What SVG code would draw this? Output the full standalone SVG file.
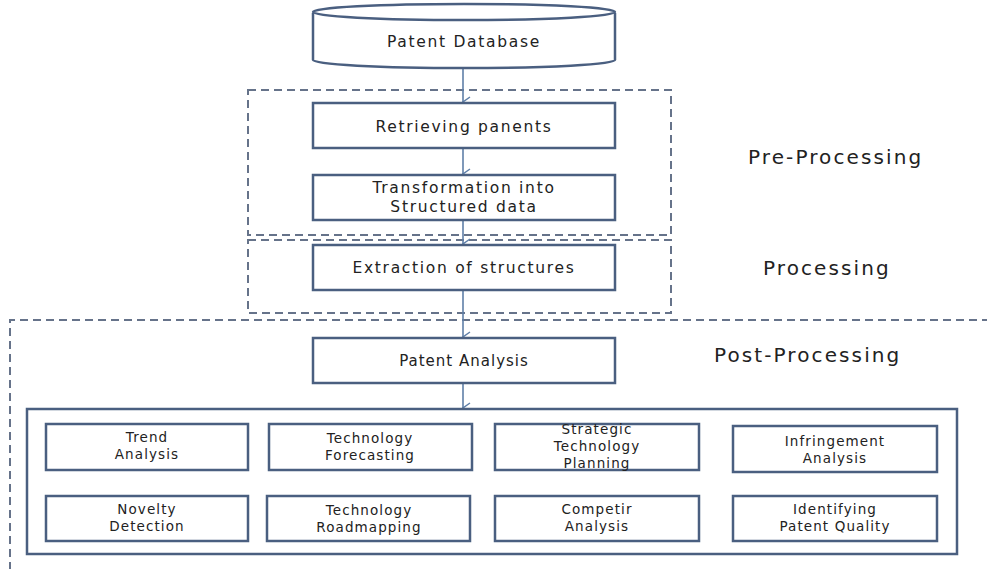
<svg xmlns="http://www.w3.org/2000/svg" width="987" height="569" viewBox="0 0 987 569">
<style>
.box{fill:#fff;stroke:#4a5f80;stroke-width:2.5}
.dash{fill:none;stroke:#66738a;stroke-width:2;stroke-dasharray:8,5}
.t{font-family:"DejaVu Sans","Open Sans",sans-serif;fill:#222;text-anchor:middle}
.m{font-size:15.5px;letter-spacing:1.7px}
.s{font-size:13.5px;letter-spacing:1.1px}
.lab{font-family:"DejaVu Sans","Open Sans",sans-serif;fill:#222;font-size:20px;letter-spacing:2.1px}
.con{stroke:#5f7fa8;stroke-width:1.6;fill:none}
</style>
<defs>
<marker id="ah" markerWidth="12" markerHeight="10" refX="6" refY="9" orient="auto" markerUnits="userSpaceOnUse" viewBox="0 0 12 10">
<polyline points="1,2 6,9 11,2" fill="none" stroke="#5f7fa8" stroke-width="1.5"/>
</marker>
</defs>
<rect width="987" height="569" fill="#fff"/>
<g id="groups">
<rect class="dash" x="248" y="90" width="423" height="145"/>
<rect class="dash" x="248" y="240" width="423" height="73"/>
<path class="dash" d="M990 320 H10 V569"/>
</g>
<g id="labels">
<text class="lab" x="748" y="164">Pre-Processing</text>
<text class="lab" x="763" y="275">Processing</text>
<text class="lab" x="714" y="362">Post-Processing</text>
</g>
<g id="connectors">
<line class="con" x1="463" y1="68" x2="463" y2="102" marker-end="url(#ah)"/>
<line class="con" x1="463" y1="148" x2="463" y2="174" marker-end="url(#ah)"/>
<line class="con" x1="463" y1="220" x2="463" y2="244" marker-end="url(#ah)"/>
<line class="con" x1="463" y1="290" x2="463" y2="337" marker-end="url(#ah)"/>
<line class="con" x1="463" y1="383" x2="463" y2="408" marker-end="url(#ah)"/>
</g>
<g id="patent-database">
<path class="box" d="M313 13 V60 A151 8 0 0 0 615 60 V13"/>
<ellipse class="box" cx="464" cy="12" rx="151" ry="8"/>
<text class="t m" x="464" y="47">Patent Database</text>
</g>
<g id="retrieving">
<rect class="box" x="313" y="103" width="302" height="45"/>
<text class="t m" x="464" y="132">Retrieving panents</text>
</g>
<g id="transformation">
<rect class="box" x="313" y="175" width="302" height="45"/>
<text class="t m" x="464" y="193">Transformation into</text>
<text class="t m" x="464" y="212">Structured data</text>
</g>
<g id="extraction">
<rect class="box" x="313" y="245" width="302" height="45"/>
<text class="t m" x="464" y="273">Extraction of structures</text>
</g>
<g id="patent-analysis">
<rect class="box" x="313" y="338" width="302" height="45"/>
<text class="t m" x="464" y="366" style="font-size:15px;letter-spacing:1px">Patent Analysis</text>
</g>
<g id="analysis-container">
<rect class="box" x="27" y="409" width="930" height="145"/>
</g>
<g id="trend">
<rect class="box" x="46" y="424" width="202" height="46"/>
<text class="t s" x="147" y="442">Trend</text>
<text class="t s" x="147" y="459">Analysis</text>
</g>
<g id="tech-forecasting">
<rect class="box" x="269" y="424" width="203" height="46"/>
<text class="t s" x="370" y="443">Technology</text>
<text class="t s" x="370" y="460">Forecasting</text>
</g>
<g id="strategic">
<rect class="box" x="495" y="424" width="204" height="46"/>
<text class="t s" x="597" y="434">Strategic</text>
<text class="t s" x="597" y="451">Technology</text>
<text class="t s" x="597" y="468">Planning</text>
</g>
<g id="infringement">
<rect class="box" x="733" y="426" width="204" height="46"/>
<text class="t s" x="835" y="446">Infringement</text>
<text class="t s" x="835" y="463">Analysis</text>
</g>
<g id="novelty">
<rect class="box" x="46" y="496" width="202" height="45"/>
<text class="t s" x="147" y="514">Novelty</text>
<text class="t s" x="147" y="531">Detection</text>
</g>
<g id="roadmapping">
<rect class="box" x="267" y="496" width="203" height="45"/>
<text class="t s" x="369" y="515">Technology</text>
<text class="t s" x="369" y="532">Roadmapping</text>
</g>
<g id="competir">
<rect class="box" x="495" y="496" width="204" height="45"/>
<text class="t s" x="597" y="514">Competir</text>
<text class="t s" x="597" y="531">Analysis</text>
</g>
<g id="quality">
<rect class="box" x="733" y="496" width="204" height="45"/>
<text class="t s" x="835" y="514">Identifying</text>
<text class="t s" x="835" y="531">Patent Quality</text>
</g>
</svg>
